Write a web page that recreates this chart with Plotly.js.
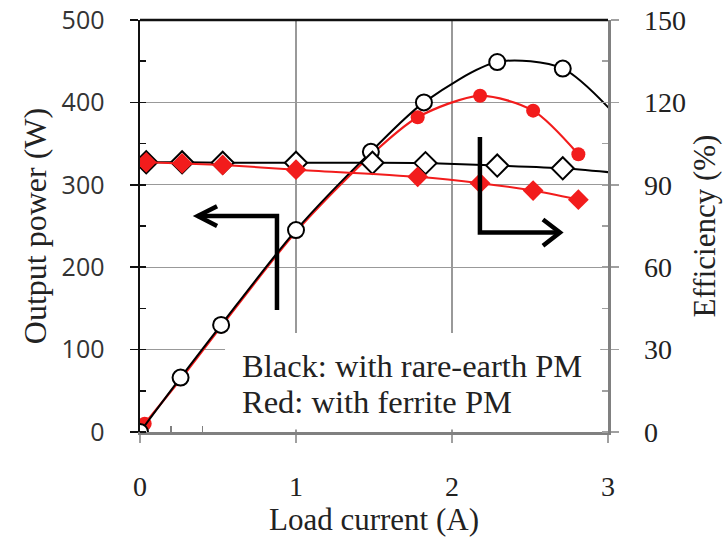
<!DOCTYPE html>
<html>
<head>
<meta charset="utf-8">
<script src="https://cdn.plot.ly/plotly-3.0.1.min.js"></script>
<style>
html,body{margin:0;padding:0;background:#fff;}
#chart{width:723px;height:538px;}
</style>
</head>
<body>
<div id="chart"></div>
<script>
// Load current (A)
const blackPowerX = [0.0, 0.26, 0.52, 1.0, 1.48, 1.82, 2.29, 2.71, 3.08];
const blackPowerY = [0, 66, 130, 245, 340, 400, 449, 441, 378];
const redPowerX = [0.03, 0.26, 0.52, 1.0, 1.48, 1.78, 2.18, 2.52, 2.81];
const redPowerY = [10, 64, 128, 243, 336, 382, 408, 390, 337];
const blackEffX = [0.04, 0.27, 0.53, 1.0, 1.49, 1.83, 2.29, 2.71, 3.08];
const blackEffY = [98.2, 98.2, 98.0, 98.0, 98.0, 97.9, 97.0, 96.0, 94.2];
const redEffX = [0.04, 0.27, 0.53, 1.0, 1.78, 2.18, 2.52, 2.81];
const redEffY = [98.2, 97.8, 97.2, 95.5, 92.9, 90.6, 87.9, 84.6];
const xTicks = [0, 1, 2, 3];
const powerTicks = [0, 100, 200, 300, 400, 500];
const effTicks = [0, 30, 60, 90, 120, 150];
const legendLines = ['Black: with rare-earth PM', 'Red: with ferrite PM'];

const serif = 'Liberation Serif';
const sans = 'Open Sans';
const RED = '#f21c1c';

const traces = [
  {x: redPowerX, y: redPowerY, type: 'scatter', mode: 'lines+markers', yaxis: 'y',
   line: {color: RED, width: 2.2, shape: 'spline', smoothing: 0.8},
   marker: {symbol: 'circle', size: 14, color: RED}},
  {x: blackPowerX, y: blackPowerY, type: 'scatter', mode: 'lines+markers', yaxis: 'y',
   line: {color: '#000', width: 2, shape: 'spline', smoothing: 0.8},
   marker: {symbol: 'circle', size: 16, color: '#fff', line: {color: '#000', width: 2}}},
  {x: blackEffX, y: blackEffY, type: 'scatter', mode: 'lines+markers', yaxis: 'y2',
   line: {color: '#000', width: 2, shape: 'spline', smoothing: 0.6},
   marker: {symbol: 'diamond', size: 17, color: '#fff', line: {color: '#000', width: 2}}},
  {x: redEffX, y: redEffY, type: 'scatter', mode: 'lines+markers', yaxis: 'y2',
   line: {color: RED, width: 2, shape: 'spline', smoothing: 0.6},
   marker: {symbol: 'diamond', size: 16, color: RED}}
];

const layout = {
  width: 723, height: 538,
  margin: {l: 140, r: 115, t: 20, b: 106, pad: 0},
  paper_bgcolor: '#fff', plot_bgcolor: '#fff',
  showlegend: false,
  font: {family: serif, color: '#222'},
  xaxis: {
    range: [0, 3], tickvals: xTicks, ticktext: xTicks.map(String),
    showgrid: true, gridcolor: '#999', gridwidth: 1.2, zeroline: false,
    showline: true, linecolor: '#808080', linewidth: 2.5,
    ticks: 'outside', ticklen: 8, tickcolor: '#a0a0a0', tickwidth: 1.5,
    minor: {tickmode: 'array', tickvals: [0.2, 0.4], ticks: 'inside', ticklen: 6, tickcolor: '#808080', tickwidth: 1.5, showgrid: false},
    ticklabelstandoff: 20,
    tickfont: {family: serif, size: 28, color: '#222'},
    title: {text: 'Load current (A)', font: {family: serif, size: 31, color: '#222'}, standoff: 2},
    automargin: false, fixedrange: true
  },
  yaxis: {
    range: [0, 500], tickvals: powerTicks,
    showgrid: true, gridcolor: '#999', gridwidth: 1.2, zeroline: false,
    showline: true, linecolor: '#111', linewidth: 2.5,
    ticks: 'outside', ticklen: 8, tickcolor: '#111', tickwidth: 1.5,
    minor: {dtick: 50, ticks: 'inside', ticklen: 6, tickcolor: '#111', tickwidth: 1.5, showgrid: false},
    ticklabelstandoff: 20,
    tickfont: {family: sans, size: 25, color: '#333'},
    title: {text: 'Output power (W)', font: {family: serif, size: 32, color: '#222'}, standoff: 6},
    automargin: false, fixedrange: true
  },
  yaxis2: {
    range: [0, 150], tickvals: effTicks, overlaying: 'y', side: 'right',
    showgrid: false, zeroline: false,
    showline: true, linecolor: '#808080', linewidth: 2.5,
    ticks: 'outside', ticklen: 8, tickcolor: '#a0a0a0', tickwidth: 1.5,
    minor: {dtick: 15, ticks: 'inside', ticklen: 6, tickcolor: '#a0a0a0', tickwidth: 1.5, showgrid: false},
    ticklabelstandoff: 20,
    tickfont: {family: serif, size: 28, color: '#222'},
    title: {text: 'Efficiency (%)', font: {family: serif, size: 31, color: '#222'}, standoff: 8},
    automargin: false, fixedrange: true
  },
  shapes: [
    {type: 'line', xref: 'paper', yref: 'paper', x0: 0, x1: 1, y0: 1, y1: 1, line: {color: '#111', width: 2.5}},
    {type: 'rect', xref: 'x', yref: 'y', x0: 0.545, x1: 2.95, y0: 3, y1: 120, layer: 'between', fillcolor: '#fff', line: {width: 0}},
    {type: 'path', xref: 'x', yref: 'y', path: 'M 0.878 148 L 0.878 262 L 0.37 262', line: {color: '#000', width: 4.5}, layer: 'above'},
    {type: 'path', xref: 'x', yref: 'y', path: 'M 0.494 274 L 0.37 262 L 0.494 250', line: {color: '#000', width: 4.5}, layer: 'above'},
    {type: 'path', xref: 'x', yref: 'y', path: 'M 2.179 358 L 2.179 242 L 2.692 242', line: {color: '#000', width: 4.5}, layer: 'above'},
    {type: 'path', xref: 'x', yref: 'y', path: 'M 2.583 258 L 2.692 242 L 2.583 226', line: {color: '#000', width: 4.5}, layer: 'above'}
  ],
  annotations: [
    {xref: 'x', yref: 'y', x: 0.64, y: 80, xanchor: 'left', yanchor: 'middle', showarrow: false,
     text: legendLines[0], font: {family: serif, size: 32.5, color: '#222'}},
    {xref: 'x', yref: 'y', x: 0.64, y: 37, xanchor: 'left', yanchor: 'middle', showarrow: false,
     text: legendLines[1], font: {family: serif, size: 32.5, color: '#222'}}
  ]
};

Plotly.newPlot('chart', traces, layout, {displayModeBar: false, staticPlot: true});
</script>
</body>
</html>
